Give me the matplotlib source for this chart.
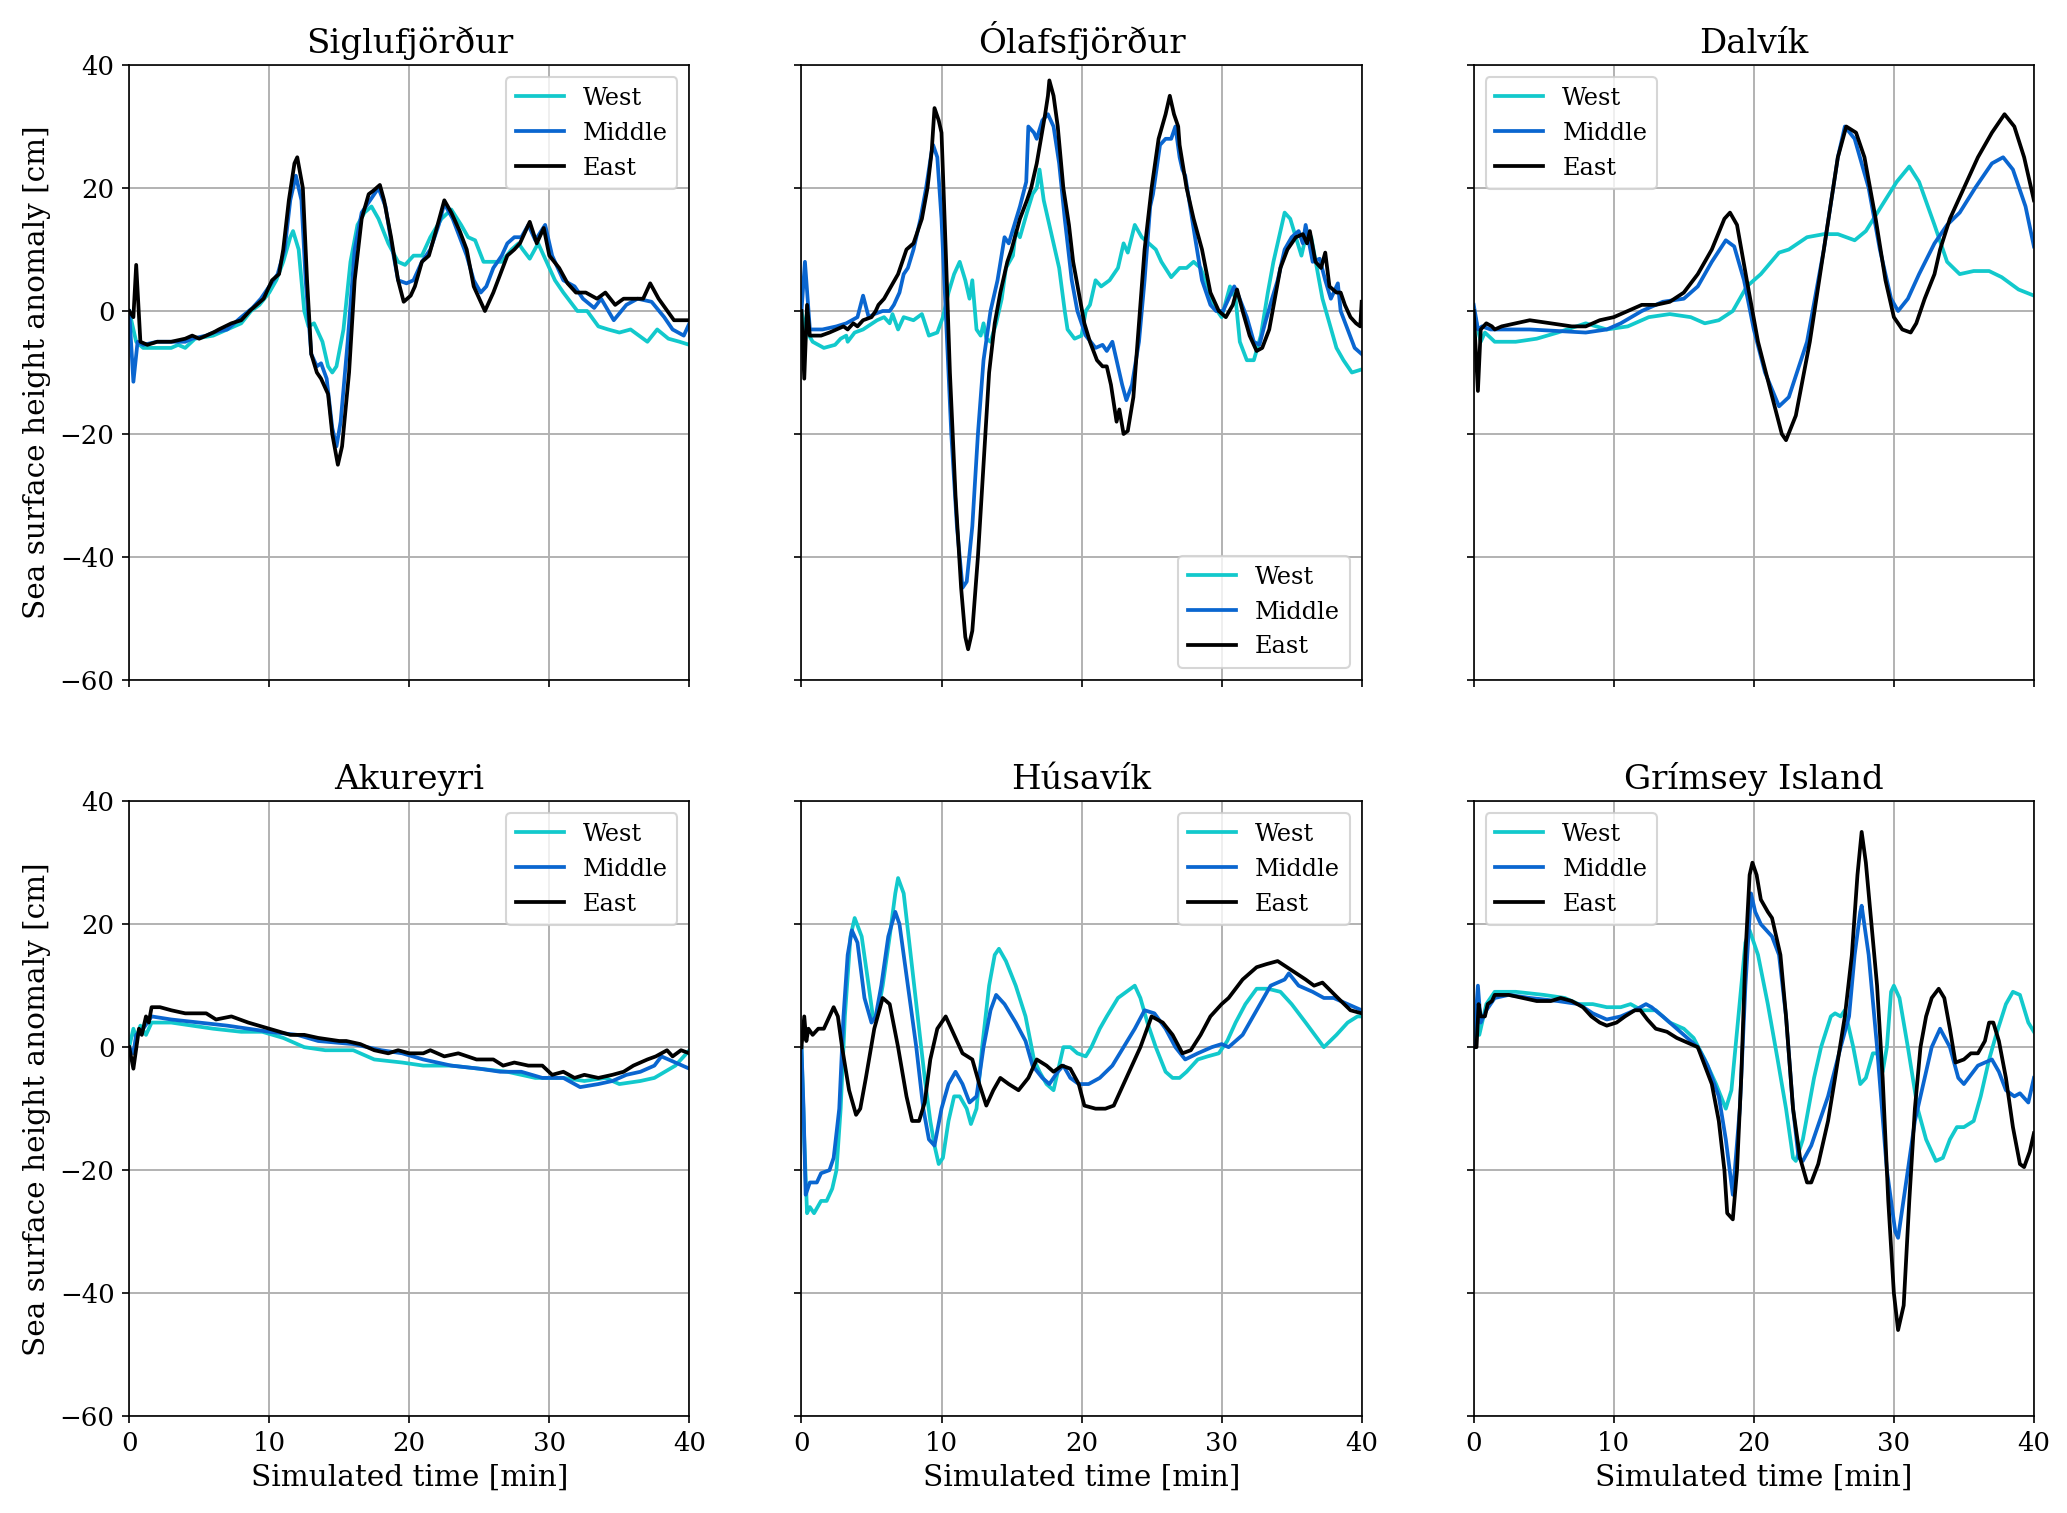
import matplotlib
matplotlib.use("Agg")
import matplotlib.pyplot as plt

# ---------------------------------------------------------------------------
# values: time [min] and anomaly [cm] per gauge/source
# ---------------------------------------------------------------------------
stations = ["Siglufjörður", "Ólafsfjörður", "Dalvík",
            "Akureyri", "Húsavík", "Grímsey Island"]
series_names = ["West", "Middle", "East"]
series_colors = ["#12c9cc", "#0a66d0", "black"]
legend_locs = ["upper right", "lower right", "upper left",
               "upper right", "upper right", "upper left"]

# Siglufjörður
sig_west_t = [0, 0.5, 1, 2, 3, 3.5, 4, 4.7, 6, 7, 8, 8.7, 9.3, 10, 10.5, 11, 11.5, 11.7, 12.1, 12.5, 12.8, 13.2,
              13.8, 14.2, 14.5, 14.8, 15.3, 15.8, 16.3, 16.8, 17.3, 17.8, 18.5, 19.2, 19.7, 20.3, 20.9, 21.5, 22.3,
              23, 23.7, 24.2, 24.7, 25.3, 26, 26.6, 27.3, 27.8, 28.1, 28.6, 29.2, 29.8, 30.4, 31, 31.5, 32, 32.7,
              33.5, 34.2, 35, 35.8, 36.4, 37, 37.7, 38.5, 39.3, 40]
sig_west_y = [0, -5, -6, -6, -6, -5.5, -6, -4.5, -4, -3, -2, 0, 1, 3, 5, 8, 12, 13, 10, 0, -2.5, -2,
              -5, -9, -10, -9, -3, 8, 14, 16, 17, 15, 11, 8, 7.5, 9, 9, 12, 15,
              16.5, 14, 12, 11.5, 8, 8, 8, 10, 11, 10, 8.5, 11, 8, 5, 3, 1.5, 0, 0,
              -2.5, -3, -3.5, -3, -4, -5, -3, -4.5, -5, -5.5]
sig_mid_t = [0, 0.3, 0.6, 1, 2, 4, 4.5, 5.5, 6, 7, 8, 8.8, 9.4, 10, 10.6, 11.1, 11.5, 11.9, 12.3, 12.6, 13.0,
             13.4, 13.7, 14.1, 14.5, 14.8, 15.1, 15.6, 16.1, 16.6, 17.2, 17.8, 18.3, 18.8, 19.2, 19.8, 20.3,
             20.9, 21.5, 22.1, 22.5, 23.1, 23.6, 24.1, 24.6, 25.1, 25.5, 26.0, 26.6, 27.0, 27.5, 28.0, 28.5,
             29.0, 29.7, 30.2, 31.0, 31.8, 32.4, 33.2, 33.7, 34.6, 35.5, 36.3, 37.3, 38.2, 38.8, 39.6, 40]
sig_mid_y = [0, -11.5, -5, -5.5, -5, -5, -4.5, -4, -3.5, -3, -1, 0.5, 2, 4, 6, 10, 18, 22, 18, 5, -7,
             -9, -8.5, -11, -19, -22, -18, -5, 10, 16, 18, 20, 17, 10, 5, 4.5, 5,
             8, 10, 14, 17.5, 15, 12, 9, 5, 3, 4, 7, 9, 11, 12, 12, 14,
             11.5, 14, 9, 5, 4, 2, 0.5, 2, -1.5, 1, 2, 1.5, -1, -3, -4, -2]
sig_east_t = [0, 0.3, 0.5, 0.8, 1.3, 2, 3, 4, 4.5, 5, 6, 6.4, 7.3, 8, 8.6, 9.1, 9.6, 10.2, 10.7, 11, 11.4, 11.8,
              12.0, 12.4, 12.7, 13.0, 13.4, 13.7, 14.2, 14.5, 14.9, 15.2, 15.7, 16.1, 16.6, 17.1, 17.4, 17.9,
              18.2, 18.7, 19.2, 19.6, 20.1, 20.4, 20.9, 21.4, 21.9, 22.5, 23.0, 23.6, 24.1, 24.6, 25.4, 26.0,
              26.5, 27.0, 27.5, 27.9, 28.3, 28.6, 29.1, 29.6, 30.0, 30.7, 31.3, 31.9, 32.6, 33.4, 34.0, 34.7,
              35.3, 36.1, 36.7, 37.2, 37.8, 38.9, 40]
sig_east_y = [0, -1, 7.5, -5, -5.5, -5, -5, -4.5, -4, -4.5, -3.5, -3, -2, -1.5, 0, 1, 2, 5, 6, 10, 18, 24,
              25, 20, 5, -7, -10, -11, -13.5, -20, -25, -22, -10, 5, 15, 19, 19.5, 20.5,
              18, 12, 5, 1.5, 2.5, 4, 8, 9, 13, 18, 16, 13, 10, 4, 0, 3,
              6, 9, 10, 11, 13, 14.5, 11, 13.5, 9, 7, 4.5, 3, 3, 2, 3, 1,
              2, 2, 2, 4.5, 2, -1.5, -1.5]

# Ólafsfjörður
ola_west_t = [0, 0.3, 0.8, 1.2, 1.6, 2.4, 2.8, 3.2, 3.3, 3.8, 4.4, 5.4, 5.9, 6.3, 6.5, 6.9, 7.3, 8, 8.6, 9.1,
              9.7, 10.1, 10.5, 10.9, 11.3, 11.7, 12, 12.2, 12.5, 12.8, 13.0, 13.2, 13.5, 13.9, 14.3, 14.6, 15.1,
              15.3, 15.6, 16.1, 16.5, 16.8, 17.0, 17.3, 17.9, 18.4, 18.8, 19.0, 19.5, 20.0, 20.3, 20.6, 21.0,
              21.4, 22, 22.6, 23.0, 23.3, 23.8, 24.3, 24.8, 25.3, 25.7, 26.4, 27.0, 27.5, 28.0, 28.5, 29.0,
              29.4, 30, 30.6, 31.0, 31.3, 31.8, 32.3, 32.8, 33.3, 33.7, 34.1, 34.5, 34.9, 35.3, 35.7, 36.1,
              36.4, 36.8, 37.2, 37.7, 38.2, 38.7, 39.3, 40]
ola_west_y = [0, -3, -5, -5.5, -6, -5.5, -4.5, -4, -5, -3.5, -3, -1.5, -1, -2, -0.5, -3, -1, -1.5, -0.5, -4,
              -3.5, -1, 3, 6, 8, 5, 2, 5, -3, -4, -2, -4.5, -5, -2, 2, 7, 9,
              13, 12, 16, 19, 20, 23, 18, 12, 7, 0, -3, -4.5, -4, 0, 1, 5,
              4, 5, 7, 11, 9.5, 14, 12, 11, 10, 8, 5.5, 7, 7, 8, 7, 4,
              1, -1, 4, 2, -5, -8, -8, -4, 3, 8, 12, 16, 15, 12, 9, 13,
              12, 7, 2, -2, -6, -8, -10, -9.5]
ola_mid_t = [0, 0.25, 0.6, 1.5, 2.5, 3.2, 3.6, 4.0, 4.4, 4.8, 5.2, 5.8, 6.3, 6.6, 7, 7.3, 7.6, 8.0, 8.5, 8.9,
             9.3, 9.4, 9.7, 10.0, 10.3, 10.7, 11.1, 11.5, 11.8, 12.2, 12.6, 13.0, 13.5, 14.0, 14.5, 14.8, 15.2,
             15.6, 16.05, 16.2, 16.6, 16.8, 17.2, 17.6, 18.0, 18.4, 18.8, 19.3, 19.7, 20.3, 21, 21.5, 21.8,
             22.2, 22.5, 22.9, 23.2, 23.6, 24.1, 24.5, 24.9, 25.1, 25.6, 26.0, 26.4, 26.7, 27.0, 27.2, 27.4,
             28.1, 28.6, 29.2, 29.6, 30.1, 30.5, 30.9, 31.2, 31.8, 32.3, 32.7, 33.1, 33.6, 34.0, 34.5, 35.0,
             35.5, 35.8, 36.0, 36.5, 37.0, 37.4, 37.8, 38.3, 38.5, 39, 39.5, 40]
ola_mid_y = [0, 8, -3, -3, -2.5, -2, -1.5, -1, 2.5, -1, -0.5, 0, 0, 1, 3, 6, 7, 10, 15, 20,
             26, 27, 25, 15, 0, -20, -35, -45, -44, -35, -20, -8, 0, 5, 12, 11, 14,
             17, 21, 30, 29, 28, 31, 32, 30, 24, 15, 5, 0, -4, -6, -5.5, -6.5,
             -5, -8, -12, -14.5, -12, -5, 5, 17, 19, 27, 28, 28, 30, 25, 23, 22,
             12, 5, 1, 0, 0, 2, 4, 2.5, -1, -5, -5.5, -2, 2, 5, 10, 12,
             13, 11, 14, 8, 8.5, 5, 2, 4.5, 0, -3, -6, -7]
ola_east_t = [0, 0.2, 0.4, 0.6, 1.4, 2, 2.5, 3, 3.3, 3.7, 4, 4.4, 5, 5.3, 5.5, 5.9, 6.4, 6.9, 7.2, 7.5, 8, 8.3,
              8.6, 9.0, 9.3, 9.5, 9.8, 10.0, 10.3, 10.6, 11.0, 11.4, 11.7, 11.9, 12.2, 12.6, 13.0, 13.4, 13.8,
              14.2, 14.7, 15.0, 15.6, 16.1, 16.4, 16.8, 17.1, 17.4, 17.6, 17.7, 18.0, 18.3, 18.7, 19.1, 19.4,
              19.8, 20.2, 20.6, 21.1, 21.5, 21.8, 22.1, 22.5, 22.7, 23.0, 23.3, 23.7, 24.0, 24.5, 25.0, 25.5,
              26.0, 26.3, 26.6, 26.9, 27.0, 27.5, 28.0, 28.6, 29.2, 29.8, 30.3, 30.8, 31.1, 31.5, 32.0, 32.5,
              32.9, 33.4, 33.8, 34.2, 34.7, 35.3, 35.8, 36.1, 36.3, 36.7, 37.1, 37.4, 37.7, 38.2, 38.5, 38.8,
              39.2, 39.6, 39.9, 40]
ola_east_y = [0, -11, 1, -4, -4, -3.5, -3, -2.5, -3, -2, -2.5, -1.5, -1, 0, 1, 2, 4, 6, 8, 10, 11, 13,
              15, 20, 26, 33, 31, 29, 10, -10, -30, -45, -53, -55, -52, -40, -25, -10, -2,
              3, 8, 10, 15, 18, 20, 24, 28, 32, 35, 37.5, 35, 30, 20, 14, 8,
              3, -2, -5, -8, -9, -9, -12, -18, -16, -20, -19.5, -14, -5, 10, 20, 28,
              32, 35, 32, 30, 27, 20, 15, 10, 3, 0, -1, 1, 3.5, 0, -4, -6.5,
              -6, -3, 2, 7, 10, 12, 12.5, 11, 13, 8, 7, 9.5, 4, 3, 3, 1,
              -1, -2, -2.5, 1.5]

# Dalvík
dal_west_t = [0, 0.5, 0.8, 1.5, 3, 4.5, 6, 8, 9.5, 11, 12.5, 14, 15.5, 16.5, 17.5, 18.5, 19.5, 20.5, 21.8,
              22.5, 23.8, 25, 26, 27.2, 28, 29.1, 30.2, 31.1, 31.8, 32.9, 33.8, 34.7, 35.7, 36.8, 37.7, 38.9, 40]
dal_west_y = [0, -5, -3.5, -5, -5, -4.5, -3.5, -2, -3, -2.5, -1, -0.5, -1, -2, -1.5, 0, 4, 6, 9.5,
              10, 12, 12.5, 12.5, 11.5, 13, 17, 21, 23.5, 21, 14, 8, 6, 6.5, 6.5, 5.5, 3.5, 2.5]
dal_mid_t = [0, 0.3, 0.6, 1.2, 2, 4, 8, 9.5, 10.5, 12, 13.5, 15, 16, 17, 18, 18.6, 19.3, 20, 20.8, 21.8, 22.5,
             23.8, 25, 26, 26.5, 27.2, 28.2, 29.0, 29.8, 30.3, 31.0, 31.8, 32.9, 33.8, 34.7, 35.8, 37, 37.8,
             38.5, 39.4, 40]
dal_mid_y = [1, -3, -2.5, -3, -3, -3, -3.5, -3, -2, 0, 1.5, 2, 4, 8, 11.5, 10.5, 5, -3, -10, -15.5, -14,
             -5, 10, 25, 30, 28, 20, 10, 2, 0, 2, 6, 11, 14, 16, 20, 24, 25,
             23, 17, 10.5]
dal_east_t = [0, 0.3, 0.5, 0.9, 1.3, 1.5, 2, 3, 4, 5.5, 7, 8, 9, 10, 11, 12, 13, 14, 15, 16, 17, 17.9, 18.3,
              18.8, 19.5, 20.3, 21.2, 22, 22.3, 23, 24, 25, 26, 26.6, 27.3, 27.9, 28.7, 29.4, 30.0, 30.6, 31.2,
              31.6, 32.2, 32.9, 33.3, 34.0, 35.0, 36.0, 37.0, 37.9, 38.6, 39.3, 40]
dal_east_y = [0, -13, -3, -2, -2.5, -3, -2.5, -2, -1.5, -2, -2.5, -2.5, -1.5, -1, 0, 1, 1, 1.5, 3, 6, 10, 15, 16,
              14, 5, -5, -13, -20, -21, -17, -5, 10, 25, 30, 29, 25, 15, 5, -1, -3, -3.5,
              -2, 2, 6, 10, 15, 20, 25, 29, 32, 30, 25, 18]

# Akureyri
aku_west_t = [0, 0.3, 0.5, 0.8, 1.2, 1.6, 3, 4.5, 6, 8, 9.5, 11, 12.5, 14, 16, 17.5, 19.5, 21, 23, 25, 27, 29,
              31, 32.5, 34, 35, 36.5, 37.5, 39, 40]
aku_west_y = [0, 3, 1.5, 3.5, 2, 4, 4, 3.5, 3, 2.5, 2.5, 1.5, 0, -0.5, -0.5, -2, -2.5, -3, -3, -3.5, -4, -5,
              -5, -5.5, -5, -6, -5.5, -5, -3, -0.5]
aku_mid_t = [0, 0.3, 0.5, 1, 1.6, 3, 5, 7, 8.5, 10, 12, 13.5, 16, 18, 19.5, 21, 23, 25, 26.5, 28, 29.5, 31,
             32.2, 33.5, 34.5, 35.5, 36.5, 37.5, 38, 39, 40]
aku_mid_y = [0, -1, 2, 3, 5, 4.5, 4, 3.5, 3, 2.5, 2, 1, 0.5, -0.5, -1, -2, -3, -3.5, -4, -4, -5, -5,
             -6.5, -6, -5.5, -4.5, -4, -3, -1.5, -2.5, -3.5]
aku_east_t = [0, 0.3, 0.7, 0.9, 1.2, 1.4, 1.6, 2.2, 3, 4, 5.5, 6.2, 7.3, 8.5, 10, 11.5, 12.5, 13.5, 15, 15.5,
              16.5, 17.5, 18.5, 19.2, 20, 21, 21.5, 22.5, 23.5, 24.8, 26, 26.7, 27.5, 28.5, 29.5, 30.2, 31,
              31.8, 32.5, 33.5, 34.5, 35.3, 36, 37, 37.6, 38.4, 38.8, 39.4, 40]
aku_east_y = [0, -3.5, 3, 2, 5, 4, 6.5, 6.5, 6, 5.5, 5.5, 4.5, 5, 4, 3, 2, 2, 1.5, 1, 1,
              0.5, -0.5, -1, -0.5, -1, -1, -0.5, -1.5, -1, -2, -2, -3, -2.5, -3, -3, -4.5, -4,
              -5, -4.5, -5, -4.5, -4, -3, -2, -1.5, -0.5, -1.5, -0.5, -1]

# Húsavík
hus_west_t = [0, 0.2, 0.4, 0.6, 0.9, 1.4, 1.8, 2.2, 2.5, 2.8, 3.1, 3.5, 3.8, 4.3, 4.8, 5.1, 5.4, 5.8, 6.3, 6.7,
              6.9, 7.3, 7.8, 8.3, 8.8, 9.2, 9.5, 9.8, 10.1, 10.5, 10.9, 11.3, 11.8, 12.1, 12.5, 12.9, 13.4,
              13.8, 14.1, 14.6, 15.3, 16.0, 16.6, 17.0, 17.5, 18.0, 18.3, 18.7, 19.2, 19.7, 20.3, 20.7, 21.3,
              21.8, 22.6, 23.2, 23.8, 24.2, 24.7, 25.3, 26.0, 26.5, 27.0, 27.5, 28.3, 29.0, 29.8, 30.4, 31.0,
              31.7, 32.5, 33.3, 34.2, 35.0, 36.0, 37.3, 38.2, 39.0, 39.7, 40]
hus_west_y = [0, -15, -27, -26, -27, -25, -25, -23, -20, -10, 5, 18, 21, 18, 10, 5, 5, 10, 18, 25,
              27.5, 25, 15, 5, -5, -12, -16, -19, -18, -12, -8, -8, -10, -12.5, -10, 0, 10,
              15, 16, 14, 10, 5, -2, -4, -6, -7, -4, 0, 0, -1, -1.5, 0, 3,
              5, 8, 9, 10, 8, 4, 0, -4, -5, -5, -4, -2, -1.5, -1, 1, 4,
              7, 9.5, 9.5, 9, 7, 4, 0, 2, 4, 5, 5]
hus_mid_t = [0, 0.15, 0.3, 0.6, 1.1, 1.4, 2, 2.3, 2.7, 3.0, 3.3, 3.6, 4.0, 4.5, 5.0, 5.3, 5.7, 6.2, 6.7, 7.0,
             7.6, 8.2, 8.7, 9.1, 9.5, 10.0, 10.5, 11.0, 11.5, 12.0, 12.5, 13.0, 13.5, 13.9, 14.5, 15.3, 16,
             16.5, 17.2, 17.7, 18.3, 18.7, 19.2, 19.8, 20.5, 21.3, 22.2, 23.0, 23.8, 24.5, 25.2, 26.0, 26.7,
             27.4, 28.3, 29.3, 30.0, 30.5, 31.5, 32.5, 33.5, 34.5, 34.8, 35.5, 36.5, 37.3, 38.0, 39.0, 40]
hus_mid_y = [0, -10, -24, -22, -22, -20.5, -20, -18, -10, 5, 15, 19, 17, 8, 4, 5, 10, 18, 22, 20,
             10, 0, -10, -15, -16, -10, -6, -4, -6, -9, -8, 0, 6, 8.5, 7, 4, 1,
             -3, -5, -6, -4, -3, -5, -6, -6, -5, -3, 0, 3, 6, 5.5, 3, 0,
             -2, -1, 0, 0.5, 0, 2, 6, 10, 11, 12, 10, 9, 8, 8, 7, 6]
hus_east_t = [0, 0.2, 0.35, 0.5, 0.8, 1.2, 1.6, 2, 2.3, 2.6, 2.9, 3.4, 3.9, 4.2, 4.6, 5.2, 5.8, 6.3, 6.9, 7.5,
              7.9, 8.4, 8.8, 9.2, 9.7, 10.3, 10.9, 11.5, 12.2, 12.7, 13.2, 13.7, 14.2, 14.8, 15.5, 16.2, 16.8,
              17.5, 18, 18.6, 19.2, 19.8, 20.2, 21, 21.7, 22.3, 23.2, 24.2, 25.0, 25.8, 26.5, 27.2, 27.8, 28.5,
              29.2, 30.0, 30.5, 31.5, 32.5, 33.2, 34.0, 35.0, 36.0, 36.6, 37.2, 38.3, 39.2, 40]
hus_east_y = [0, 5, 1, 3, 2, 3, 3, 5, 6.5, 5, 0, -7, -11, -10, -5, 3, 8, 7, 0, -8,
              -12, -12, -9, -2, 3, 5, 2, -1, -2, -6, -9.5, -7, -5, -6, -7, -5, -2,
              -3, -4, -3, -3.5, -6, -9.5, -10, -10, -9.5, -5, 0, 5, 4, 2, -1, -0.5, 2,
              5, 7, 8, 11, 13, 13.5, 14, 12.5, 11, 10, 10.5, 8, 6, 5.5]

# Grímsey Island
gri_west_t = [0, 0.2, 0.4, 0.9, 1.5, 3, 5, 6.5, 7.5, 8.5, 9.5, 10.5, 11.2, 12, 13, 14.0, 15.0, 15.7, 16.5, 17.3,
              18.0, 18.4, 18.9, 19.4, 19.7, 20.3, 21, 21.7, 22.3, 22.8, 23.0, 23.5, 24.3, 24.8, 25.5, 25.8,
              26.2, 26.5, 27.1, 27.6, 28.0, 28.5, 28.8, 29.2, 29.5, 29.8, 30.0, 30.4, 31.0, 31.7, 32.3, 33.0,
              33.5, 34.0, 34.5, 35.0, 35.7, 36.2, 36.8, 37.3, 38.0, 38.5, 39.0, 39.6, 40]
gri_west_y = [0, 6, 2, 7, 9, 9, 8.5, 8, 7, 7, 6.5, 6.5, 7, 6, 6, 4, 3, 1.5, -2, -6,
              -10, -7, 5, 17, 19, 15, 7, -2, -10, -18, -18.5, -15, -5, 0, 5, 5.5,
              5, 6, 0, -6, -5, -1, -1, -4, 0, 9, 10, 8, 0, -10, -15, -18.5,
              -18, -15, -13, -13, -12, -8, -2, 2, 7, 9, 8.5, 4, 2.5]
gri_mid_t = [0, 0.3, 0.5, 0.9, 1.5, 2.5, 4, 6, 7.5, 8.5, 9.5, 10.5, 11.5, 12.3, 12.7, 13.5, 14.5, 15.5, 16,
             16.7, 17.5, 18.0, 18.5, 19.0, 19.4, 19.8, 20.1, 20.5, 20.9, 21.3, 21.8, 22.3, 22.8, 23.2, 23.5,
             24.1, 25.3, 26.2, 26.8, 27.2, 27.6, 27.7, 28.2, 28.8, 29.5, 30.1, 30.3, 31.0, 31.5, 32.2, 32.7,
             33.3, 34.0, 34.6, 35.0, 36.0, 37.0, 37.5, 38.0, 38.6, 39, 39.6, 40]
gri_mid_y = [0, 10, 4, 6, 8, 8.5, 8, 7.5, 7, 5.5, 4.5, 5, 6, 7, 6.5, 5, 3, 1, 0,
             -3, -8, -15, -24, -10, 10, 25, 22, 20, 19, 18, 15, 5, -10, -18, -18.5,
             -16, -8, 0, 5, 15, 22, 23, 15, 0, -20, -30, -31, -20, -12, -5, 0,
             3, 0, -5, -6, -3, -2, -4, -7, -8, -7.5, -9, -5]
gri_east_t = [0, 0.2, 0.35, 0.5, 0.8, 1.0, 1.3, 1.5, 2.5, 3.5, 4.5, 5.5, 6.2, 7, 7.8, 8.4, 9.0, 9.5, 10.2, 10.8,
              11.5, 11.9, 12.4, 13, 13.8, 14.5, 15.5, 16.0, 16.5, 17.0, 17.5, 17.9, 18.1, 18.5, 18.8, 19.1,
              19.4, 19.7, 19.9, 20.2, 20.5, 21, 21.3, 21.9, 22.3, 22.8, 23.3, 23.8, 24.1, 24.6, 25.3, 25.8,
              26.5, 27.0, 27.4, 27.7, 28.0, 28.4, 28.8, 29.2, 29.6, 30.0, 30.3, 30.7, 31.1, 31.5, 31.9, 32.3,
              32.7, 33.2, 33.6, 34.0, 34.4, 35, 35.5, 36, 36.5, 36.8, 37.1, 37.5, 38.0, 38.5, 39.0, 39.3,
              39.7, 40]
gri_east_y = [0, 0, 7, 5, 5, 7, 7.5, 8.5, 8.5, 8, 7.5, 7.5, 8, 7.5, 6.5, 5, 4, 3.5, 4, 5,
              6, 6, 4.5, 3, 2.5, 1.5, 0.5, 0, -3, -6, -12, -20, -27, -28, -20, -5,
              15, 28, 30, 28, 24, 22, 21, 15, 5, -10, -18, -22, -22, -19, -12, -5,
              5, 15, 28, 35, 30, 20, 10, -5, -25, -40, -46, -42, -25, -10, 0, 5,
              8, 9.5, 8, 3, -2.5, -2, -1, -1, 1, 4, 4, 1, -5, -13, -19, -19.5,
              -17, -14]

panels = [
    [(sig_west_t, sig_west_y), (sig_mid_t, sig_mid_y), (sig_east_t, sig_east_y)],
    [(ola_west_t, ola_west_y), (ola_mid_t, ola_mid_y), (ola_east_t, ola_east_y)],
    [(dal_west_t, dal_west_y), (dal_mid_t, dal_mid_y), (dal_east_t, dal_east_y)],
    [(aku_west_t, aku_west_y), (aku_mid_t, aku_mid_y), (aku_east_t, aku_east_y)],
    [(hus_west_t, hus_west_y), (hus_mid_t, hus_mid_y), (hus_east_t, hus_east_y)],
    [(gri_west_t, gri_west_y), (gri_mid_t, gri_mid_y), (gri_east_t, gri_east_y)],
]

plt.rcParams["font.family"] = "DejaVu Serif"
plt.rcParams["mathtext.fontset"] = "dejavuserif"

fig, axes = plt.subplots(2, 3, figsize=(13.78, 10.087), dpi=150, sharex=True, sharey=True)
fig.subplots_adjust(left=0.0625, right=0.984, top=0.957, bottom=0.064, wspace=0.2, hspace=0.197)

for i, ax in enumerate(axes.flat):
    for (t, y), name, col in zip(panels[i], series_names, series_colors):
        ax.plot(t, y, color=col, lw=1.8, label=name)
    ax.set_title(stations[i], fontsize=16.3)
    ax.grid(True, color="#b0b0b0", lw=0.9)
    ax.set_xlim(0, 40)
    ax.set_ylim(-60, 40)
    ax.set_xticks([0, 10, 20, 30, 40])
    ax.set_yticks([-60, -40, -20, 0, 20, 40])
    ax.tick_params(labelsize=12.5)
    ax.legend(loc=legend_locs[i], fontsize=11.5)
    if i % 3 == 0:
        ax.set_ylabel("Sea surface height anomaly [cm]", fontsize=14.2)
    if i >= 3:
        ax.set_xlabel("Simulated time [min]", fontsize=14.2)

fig.savefig("out.png", dpi=150)
